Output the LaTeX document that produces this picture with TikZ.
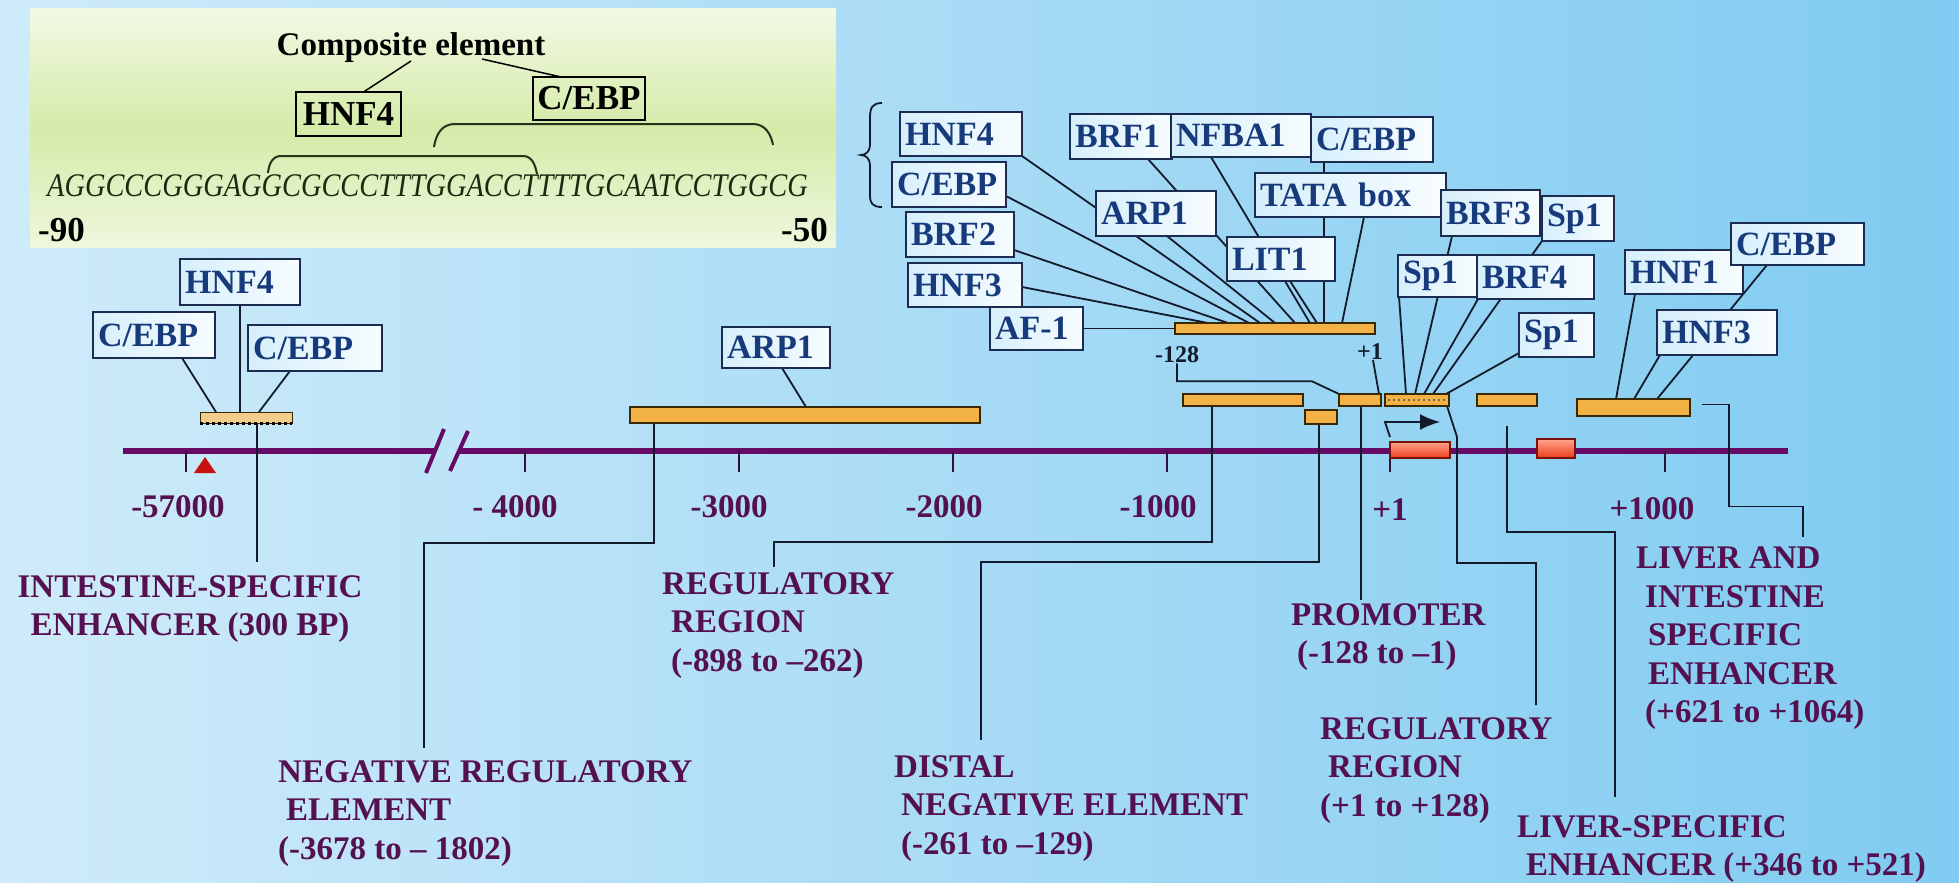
\documentclass[tikz,border=0pt]{standalone}
\usepackage{fontspec}
\setmainfont{Liberation Serif}
\usetikzlibrary{arrows.meta}
\definecolor{bgL}{HTML}{CFEBF9}
\definecolor{bgR}{HTML}{80CBF1}
\definecolor{inTop}{HTML}{F2F9E4}
\definecolor{inMid}{HTML}{D4EBA9}
\definecolor{inBot}{HTML}{EEF7DC}
\definecolor{navy}{HTML}{173A7C}
\definecolor{boxedge}{HTML}{1C2C50}
\definecolor{boxL}{HTML}{D6EFFB}
\definecolor{boxR}{HTML}{F7FCFF}
\definecolor{wirec}{HTML}{121A2C}
\definecolor{lblc}{HTML}{55104F}
\definecolor{axisc}{HTML}{660A66}
\definecolor{barfill}{HTML}{F2B246}
\definecolor{enhfill}{HTML}{F3CE8A}
\definecolor{baredge}{HTML}{3A2800}
\definecolor{exonTop}{HTML}{FFA58C}
\definecolor{exonBot}{HTML}{EC3C1E}
\definecolor{exonEdge}{HTML}{7A1208}
\definecolor{seqc}{HTML}{1C2A12}
\definecolor{tric}{HTML}{C81010}
\definecolor{brkc}{HTML}{24341A}

\pgfdeclarelayer{back}
\pgfdeclarelayer{wires}
\pgfsetlayers{back,wires,main}

\newcommand\tfbox[6]{%
  \pgfmathsetmacro\tfw{#4-#2-10}%
  \node[tfb, text width=\tfw pt, minimum height={#5-#3}, anchor=north west] (#1) at (#2,#3) {#6};}
\newcommand\barbox[6]{%
  \node[#6, minimum width={#4-#2}, minimum height={#5-#3}, anchor=north west] (#1) at (#2,#3) {};}

\begin{document}
\begin{tikzpicture}[x=1pt,y=-1pt,
  tfb/.style={draw=boxedge, line width=1.8pt, left color=boxL, right color=boxR,
    inner xsep=5pt, inner ysep=0pt, outer sep=0pt, align=left, text=navy,
    font=\fontsize{34}{38}\selectfont\bfseries},
  ibox/.style={draw=black, line width=1.5pt, inner sep=0pt, outer sep=0pt,
    align=center, text=black, font=\fontsize{35}{38}\selectfont\bfseries},
  obar/.style={draw=baredge, line width=1.6pt, fill=barfill, inner sep=0pt, outer sep=0pt},
  ebar/.style={draw=baredge, line width=1pt, fill=enhfill, inner sep=0pt, outer sep=0pt},
  exon/.style={draw=exonEdge, line width=1.6pt, top color=exonTop, bottom color=exonBot,
    inner sep=0pt, outer sep=0pt},
  wire/.style={draw=wirec, line width=1.8pt},
  iwire/.style={draw=black, line width=1.5pt},
  brk/.style={draw=brkc, line width=2pt},
  lbl/.style={text=lblc, font=\fontsize{33}{38.5}\selectfont\bfseries, inner sep=0pt,
    align=left, anchor=north west},
  axl/.style={text=lblc, font=\fontsize{33}{38}\selectfont\bfseries, inner sep=0pt, anchor=base},
  axisline/.style={draw=axisc, line width=6pt},
  tickl/.style={draw=wirec!70!axisc, line width=2pt}]

\useasboundingbox (0,0) rectangle (1959,883);

\begin{pgfonlayer}{back}
  \shade[left color=bgL, right color=bgR] (0,0) rectangle (1959,883);
  \shade[top color=inTop, bottom color=inBot, middle color=inMid] (30,9) rectangle (836,247);
  % axis
  \coordinate (axL) at (123,451);
  \coordinate (axB1) at (436,451);
  \coordinate (axB2) at (458,451);
  \coordinate (axR) at (1788,451);
  \draw[axisline] (axL) -- (axB1);
  \draw[axisline] (axB2) -- (axR);
  \draw[axisc, line width=4pt] (426,473) -- (444,429);
  \draw[axisc, line width=4pt] (450,471) -- (468,431);
  \foreach \x in {186,525,739,953,1167,1390,1665}
    \draw[tickl] (\x,451) -- (\x,472);
  \fill[tric] (194,473) -- (205,457) -- (216,473) -- cycle;
\end{pgfonlayer}

% ---------------- inset ----------------
\node[font=\fontsize{33}{36}\selectfont\bfseries, inner sep=0pt, anchor=base] (comp) at (411,56) {Composite element};
\node[ibox, minimum width=105, minimum height=44, anchor=north west] (iHNF4) at (296,92) {HNF4};
\node[ibox, minimum width=112, minimum height=43, anchor=north west] (iCEBP) at (533,77) {C/EBP};
\node[inner sep=0pt, anchor=base west, text=seqc, font=\fontsize{33}{36}\selectfont\itshape] (seq) at (47,196)
  {\scalebox{0.86}[1]{AGGCCCGGGAGGCGCCCTTTGGACCTTTTGCAATCCTGGCG}};
\node[anchor=base west, inner sep=0pt, font=\fontsize{35}{38}\selectfont\bfseries] (m90) at (38,241) {-90};
\node[anchor=base east, inner sep=0pt, font=\fontsize{35}{38}\selectfont\bfseries] (m50) at (828,241) {-50};
\draw[brk] (268,173) .. controls (269,163) and (273,156) .. (281,156) -- (523,156) .. controls (531,156) and (535,163) .. (537,174);
\draw[brk] (434,147) .. controls (436,134) and (442,124) .. (455,124) -- (753,124) .. controls (765,124) and (771,134) .. (773,145);
\draw[wirec, line width=1.8pt] (882,103) .. controls (872,103) and (870,108) .. (870,118) -- (870,145)
  .. controls (870,151) and (866,155) .. (861,155) .. controls (866,155) and (870,159) .. (870,165)
  -- (870,195) .. controls (870,203) and (872,207) .. (882,207);

% ---------------- boxes ----------------
\tfbox{eCEBPl}{93}{312}{215}{358}{C/EBP}
\tfbox{eHNF4}{180}{259}{300}{305}{HNF4}
\tfbox{eCEBPr}{248}{325}{382}{371}{C/EBP}
\tfbox{mARP1}{722}{327}{830}{368}{ARP1}
\tfbox{pHNF4}{900}{112}{1022}{156}{HNF4}
\tfbox{pCEBP}{892}{162}{1006}{207}{C/EBP}
\tfbox{pBRF2}{906}{212}{1014}{257}{BRF2}
\tfbox{pHNF3}{908}{263}{1022}{307}{HNF3}
\tfbox{pAF1}{990}{307}{1083}{350}{AF-1}
\tfbox{pBRF1}{1070}{114}{1172}{159}{BRF1}
\tfbox{pNFBA1}{1171}{114}{1311}{157}{NFBA1}
\tfbox{pCEBPb}{1311}{117}{1433}{162}{C/EBP}
\tfbox{pTATA}{1255}{173}{1446}{217}{TATA box}
\tfbox{pARP1}{1096}{191}{1216}{236}{ARP1}
\tfbox{pLIT1}{1227}{237}{1335}{281}{LIT1}
\tfbox{rBRF3}{1441}{190}{1540}{236}{BRF3}
\tfbox{rSp1a}{1542}{196}{1614}{241}{Sp1}
\tfbox{rSp1b}{1398}{255}{1477}{297}{Sp1}
\tfbox{rBRF4}{1477}{255}{1594}{299}{BRF4}
\tfbox{rSp1c}{1519}{313}{1594}{357}{Sp1}
\tfbox{lHNF1}{1625}{250}{1743}{294}{HNF1}
\tfbox{lCEBP}{1731}{223}{1864}{265}{C/EBP}
\tfbox{lHNF3}{1657}{310}{1777}{355}{HNF3}

% ---------------- bars ----------------
\barbox{bEnh}{200}{412}{292}{423}{ebar}
\draw[black, line width=3pt, dash pattern=on 3pt off 3pt] (bEnh.south west) -- (bEnh.south east);
\barbox{bNRE}{630}{407}{980}{423}{obar}
\barbox{bProm}{1175}{323}{1375}{334}{obar}
\barbox{bRR1}{1183}{394}{1303}{406}{obar}
\barbox{bDNE}{1305}{410}{1337}{424}{obar}
\barbox{bPr}{1339}{394}{1381}{406}{obar}
\barbox{bRR2}{1385}{394}{1449}{406}{obar}
\draw[baredge!70, line width=1.2pt, dash pattern=on 2pt off 3pt] ([xshift=3pt]bRR2.west) -- ([xshift=-3pt]bRR2.east);
\barbox{bLSE}{1477}{394}{1537}{406}{obar}
\barbox{bLIE}{1577}{399}{1690}{416}{obar}
\barbox{ex1}{1390}{442}{1450}{458}{exon}
\barbox{ex2}{1537}{439}{1575}{458}{exon}

\coordinate (arS) at (1390,437);
\coordinate (arE) at (1440,422);
\draw[wire, -{Latex[length=20pt,width=16pt]}] (arS) -- ++(-5,-15) -- (arE);

\node[font=\fontsize{24}{26}\selectfont\bfseries, text=wirec, inner sep=0pt] (m128) at (1177,355) {-128};
\node[font=\fontsize{24}{26}\selectfont\bfseries, text=wirec, inner sep=0pt] (p1) at (1370,352) {+1};

% ---------------- labels ----------------
\node[lbl, anchor=north, align=center] (lblIS) at (190,575) {INTESTINE-SPECIFIC\\ENHANCER (300 BP)};
\node[lbl] (lblNRE) at (278,760) {NEGATIVE REGULATORY\\\hspace*{8pt}ELEMENT\\(-3678 to – 1802)};
\node[lbl] (lblRR1) at (662,572) {REGULATORY\\\hspace*{9pt}REGION\\\hspace*{9pt}(-898 to –262)};
\node[lbl] (lblDNE) at (894,755) {DISTAL\\\hspace*{7pt}NEGATIVE ELEMENT\\\hspace*{7pt}(-261 to –129)};
\node[lbl] (lblPR) at (1291,603) {PROMOTER\\\hspace*{6pt}(-128 to –1)};
\node[lbl] (lblRR2) at (1320,717) {REGULATORY\\\hspace*{8pt}REGION\\(+1 to +128)};
\node[lbl] (lblLSE) at (1517,815) {LIVER-SPECIFIC\\\hspace*{9pt}ENHANCER (+346 to +521)};
\node[lbl] (lblLIE) at (1636,547) {LIVER AND\\\hspace*{9pt}INTESTINE\\\hspace*{12pt}SPECIFIC\\\hspace*{12pt}ENHANCER\\\hspace*{9pt}(+621 to +1064)};

\node[axl] (a57) at (178,517) {-57000};
\node[axl] (a4) at (515,517) {- 4000};
\node[axl] (a3) at (729,517) {-3000};
\node[axl] (a2) at (944,517) {-2000};
\node[axl] (a1) at (1158,517) {-1000};
\node[axl] (ap1) at (1390,520) {+1};
\node[axl] (ap1000) at (1652,519) {+1000};

% ---------------- connectors ----------------
\coordinate (tIS) at (257,562);
\coordinate (tNRE) at (424,748);
\coordinate (tRR1) at (774,567);
\coordinate (tDNE) at (981,740);
\coordinate (tPR) at (1361,600);
\coordinate (tRR2) at (1536,705);
\coordinate (tLSE) at (1615,797);
\coordinate (tLIE) at (1803,537);

\begin{pgfonlayer}{wires}
  % inset
  \draw[iwire] ([yshift=-5pt]comp.base) -- ([xshift=15pt]iHNF4.north);
  \draw[iwire] ([xshift=71pt,yshift=-3pt]comp.base) -- ([xshift=-28pt]iCEBP.north);
  % enhancer
  \draw[wire] ([xshift=-33pt]eCEBPl.south east) -- ([xshift=16pt]bEnh.north west);
  \draw[wire] (eHNF4.south) -- (eHNF4.south |- bEnh.north);
  \draw[wire] ([xshift=42pt]eCEBPr.south west) -- ([xshift=59pt]bEnh.north west);
  \draw[wire] ([xshift=6pt]mARP1.south) -- ([xshift=176pt]bNRE.north west);
  % promoter cluster
  \draw[wire] (pAF1.east) -- ++(48,0) -- (bProm.west);
  \draw[wire] ([yshift=-2pt]pHNF3.east) -- ([xshift=33pt]bProm.north west);
  \draw[wire] ([yshift=-15.5pt]pBRF2.east) -- ([xshift=53pt]bProm.north west);
  \draw[wire] ([yshift=-11.5pt]pCEBP.east) -- ([xshift=74pt]bProm.north west);
  \draw[wire] (pHNF4.south east) -- ([xshift=85pt]bProm.north west);
  \draw[wire] ([xshift=11pt]pARP1.south) -- ([xshift=100pt]bProm.north west);
  \draw[wire] ([xshift=27pt]pBRF1.south) -- ([xshift=120pt]bProm.north west);
  \draw[wire] ([xshift=-30pt]pNFBA1.south) -- ([xshift=135pt]bProm.north west);
  \draw[wire] ([xshift=9pt]pLIT1.south) -- ([xshift=142pt]bProm.north west);
  \draw[wire] ([xshift=-48pt]pCEBPb.south) -- ([xshift=149pt]bProm.north west);
  \draw[wire] ([xshift=13.5pt]pTATA.south) -- ([xshift=167pt]bProm.north west);
  \draw[wire] (m128.south) -- ++(0,18) -- ++(135,0) -- (bPr.north west);
  \draw[wire] ([xshift=3pt]p1.south) -- ([xshift=-2pt]bPr.north east);
  % right cluster
  \draw[wire] ([xshift=1pt]rSp1b.south west) -- ([xshift=21pt]bRR2.north west);
  \draw[wire] ([xshift=11pt]rBRF3.south west) -- ([xshift=30pt]bRR2.north west);
  \draw[wire] ([xshift=1pt]rBRF4.south west) -- ([xshift=39pt]bRR2.north west);
  \draw[wire] (rSp1a.south west) -- ([xshift=48pt]bRR2.north west);
  \draw[wire] ([yshift=4pt]rSp1c.south west) -- ([xshift=61pt]bRR2.north west);
  \draw[wire] ([xshift=10pt]lHNF1.south west) -- ([xshift=39pt]bLIE.north west);
  \draw[wire] ([xshift=36pt]lCEBP.south west) -- ([xshift=80pt]bLIE.north west);
  \draw[wire] ([xshift=3pt]lHNF3.south west) -- ([xshift=57pt]bLIE.north west);
  % region label leaders
  \draw[wire] ([xshift=11pt]bEnh.south) -- (tIS);
  \draw[wire] ([xshift=24pt]bNRE.south west) -- ++(0,120) -| (tNRE);
  \draw[wire] ([xshift=29pt]bRR1.south west) -- ++(0,136) -| (tRR1);
  \draw[wire] ([xshift=14pt]bDNE.south west) -- ++(0,138) -| (tDNE);
  \draw[wire] ([xshift=22pt]bPr.south west) -- (tPR);
  \draw[wire] ([xshift=-2pt]bRR2.south east) -- ++(10,31) -- ++(0,126) -| (tRR2);
  \draw[wire] ([xshift=30pt,yshift=-20pt]bLSE.south west) -- ++(0,106) -| (tLSE);
  \draw[wire] ([xshift=12pt,yshift=3pt]bLIE.east) -- ++(27,0) -- ++(0,102) -| (tLIE);
\end{pgfonlayer}
\end{tikzpicture}
\end{document}
